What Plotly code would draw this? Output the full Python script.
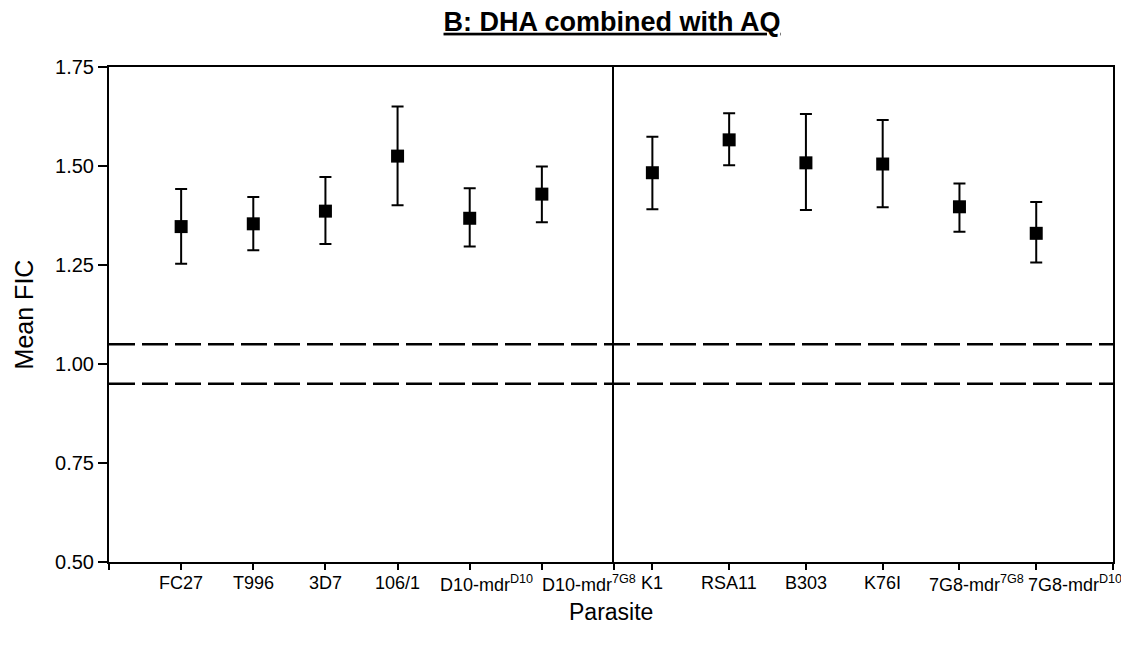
import plotly.graph_objects as go

# ---- data ----
left_categories = ["FC27", "T996", "3D7", "106/1", "D10-mdr<sup>D10</sup>", "D10-mdr<sup>7G8</sup>"]
left_mean = [1.347, 1.354, 1.386, 1.525, 1.368, 1.429]
left_upper = [1.442, 1.422, 1.472, 1.650, 1.444, 1.499]
left_lower = [1.253, 1.287, 1.303, 1.401, 1.297, 1.358]

right_categories = ["K1", "RSA11", "B303", "K76I", "7G8-mdr<sup>7G8</sup>", "7G8-mdr<sup>D10</sup>"]
right_mean = [1.483, 1.566, 1.508, 1.505, 1.397, 1.330]
right_upper = [1.574, 1.633, 1.631, 1.616, 1.456, 1.409]
right_lower = [1.391, 1.502, 1.389, 1.396, 1.334, 1.256]

reference_lines = [1.05, 0.95]
y_ticks = [0.50, 0.75, 1.00, 1.25, 1.50, 1.75]

# label nudges (px) so long labels do not collide, as in the original
left_label_shift = [0, 0, 0, 0, 17, 47]
right_label_shift = [0, 0, 0, 0, 17, 39]

FONT = "Liberation Sans, Arial, sans-serif"

left_x = [i + 1 for i in range(len(left_categories))]
right_x = [i for i in range(len(right_categories))]

fig = go.Figure()

def add_series(xs, mean, upper, lower, xaxis, yaxis):
    fig.add_trace(go.Scatter(
        x=xs, y=mean, mode="markers",
        xaxis=xaxis, yaxis=yaxis,
        marker=dict(symbol="square", size=13, color="black"),
        error_y=dict(type="data", symmetric=False,
                     array=[u - m for u, m in zip(upper, mean)],
                     arrayminus=[m - l for m, l in zip(mean, lower)],
                     color="black", thickness=2, width=6),
        showlegend=False, hoverinfo="skip",
    ))

add_series(left_x, left_mean, left_upper, left_lower, "x", "y")
add_series(right_x, right_mean, right_upper, right_lower, "x2", "y2")

# dashed reference lines across both panels
for yv in reference_lines:
    fig.add_shape(type="line", xref="paper", yref="y", x0=0, x1=1, y0=yv, y1=yv,
                  line=dict(color="black", width=2.5, dash="26px,7px"), layer="above")

# category labels under the ticks
for xs, cats, shifts, xr in [(left_x, left_categories, left_label_shift, "x"),
                              (right_x, right_categories, right_label_shift, "x2")]:
    for xv, cat, sh in zip(xs, cats, shifts):
        fig.add_annotation(text=cat, x=xv, xref=xr, y=-0.043, yref="paper",
                           xanchor="center", yanchor="middle", xshift=sh,
                           showarrow=False,
                           font=dict(family=FONT, size=18, color="black"))

split = 505 / 1004

axis_common = dict(showline=True, linecolor="black", linewidth=2, mirror=True,
                   showgrid=False, zeroline=False, ticks="outside", ticklen=6,
                   tickwidth=1.5, tickcolor="black", showticklabels=False,
                   automargin=False)

fig.update_layout(
    width=1113, height=635,
    margin=dict(l=101, r=8, t=59, b=81, autoexpand=False),
    paper_bgcolor="white", plot_bgcolor="white",
    title=dict(text="<b><u>B: DHA combined with AQ</u></b>", x=0.5427, xanchor="center",
               y=0.994, yanchor="top",
               font=dict(family=FONT, size=27, color="black")),
    xaxis=dict(domain=[0, split], range=[0, 7],
               tickvals=list(range(0, len(left_categories) + 2)),
               **axis_common),
    xaxis2=dict(domain=[split, 1], range=[-0.5, 6], anchor="y2",
                tickvals=list(range(0, len(right_categories) + 1)),
                **axis_common),
    yaxis=dict(range=[0.5, 1.75], tickvals=y_ticks, tickformat=".2f",
               showline=True, linecolor="black", linewidth=2, mirror=False,
               showgrid=False, zeroline=False, ticks="outside", ticklen=9,
               tickwidth=1.5, tickcolor="black", automargin=False,
               tickfont=dict(family=FONT, size=20, color="black"),
               title=dict(text="Mean FIC", font=dict(family=FONT, size=25, color="black"),
                          standoff=14)),
    yaxis2=dict(range=[0.5, 1.75], anchor="x2", matches="y", showticklabels=False,
                showline=True, linecolor="black", linewidth=2, mirror=True,
                showgrid=False, zeroline=False, ticks="", automargin=False),
)

fig.add_annotation(text="Parasite", xref="paper", yref="paper", x=0.5, y=-0.101,
                   xanchor="center", yanchor="middle", showarrow=False,
                   font=dict(family=FONT, size=23, color="black"))

fig.write_html("out.html")
